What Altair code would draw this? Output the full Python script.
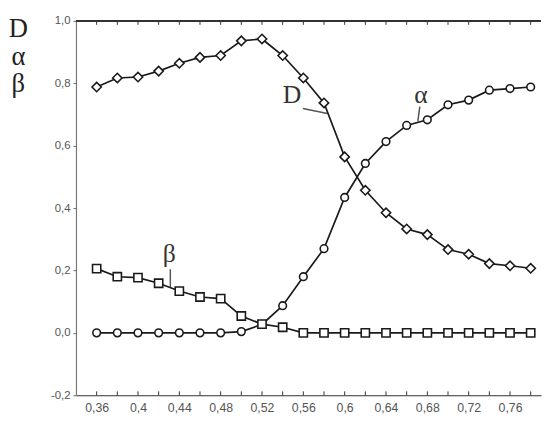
import altair as alt
import pandas as pd

x_vals = [0.36, 0.38, 0.40, 0.42, 0.44, 0.46, 0.48, 0.50, 0.52, 0.54, 0.56,
          0.58, 0.60, 0.62, 0.64, 0.66, 0.68, 0.70, 0.72, 0.74, 0.76, 0.78]
D_vals = [0.788, 0.817, 0.820, 0.839, 0.864, 0.883, 0.889, 0.936, 0.942, 0.889, 0.817,
          0.737, 0.564, 0.457, 0.385, 0.333, 0.315, 0.267, 0.252, 0.222, 0.215, 0.207]
alpha_vals = [0, 0, 0, 0, 0, 0, 0, 0.004, 0.027, 0.087, 0.180,
              0.270, 0.434, 0.543, 0.613, 0.665, 0.683, 0.731, 0.746, 0.778, 0.783, 0.788]
beta_vals = [0.206, 0.180, 0.177, 0.159, 0.134, 0.115, 0.110, 0.054, 0.028, 0.018, 0,
             0, 0, 0, 0, 0, 0, 0, 0, 0, 0, 0]
y_ticks = [-0.2, 0.0, 0.2, 0.4, 0.6, 0.8, 1.0]

ann_labels = ["D", "α", "β"]
ann_x = [0.549, 0.6737, 0.4303]
ann_y = [0.763, 0.763, 0.251]
lead_x = [0.5596, 0.6727, 0.4313]
lead_y = [0.719, 0.725, 0.204]
lead_x2 = [0.5833, 0.6708, 0.4313]
lead_y2 = [0.703, 0.678, 0.147]

W, H = 472, 380

xscale = alt.Scale(domain=[0.34, 0.79], nice=False, zero=False)
yscale = alt.Scale(domain=[-0.2, 1.0], nice=False, zero=False)

xaxis = alt.Axis(
    values=x_vals,
    labelExpr="round(datum.value*100) % 4 == 0 ? replace(format(datum.value, '.2~f'), '.', ',') : ''",
    ticks=False, grid=False, domainColor="#333", domainWidth=1.2,
    labelFont="Liberation Sans", labelFontSize=12.5, labelColor="#555",
    labelPadding=6, title=None, labelOverlap=False,
)
yaxis = alt.Axis(
    values=y_ticks,
    labelExpr="replace(replace(format(datum.value, '.1f'), '.', ','), '\u2212', '-')",
    tickSize=3, tickColor="#666", domainColor="#777", domainWidth=1.2, grid=False,
    labelFont="Liberation Sans", labelFontSize=11.5, labelColor="#555", labelPadding=3,
    title=["D", "α", "β"], titleAngle=0, titleFont="Liberation Serif",
    titleFontSize=27, titleFontWeight="normal", titleColor="#222",
    titleX=-59, titleY=16, titleAlign="center", titleBaseline="alphabetic",
    titleLineHeight=28,
)

X = alt.X("x:Q", scale=xscale, axis=xaxis)
Y = alt.Y("y:Q", scale=yscale, axis=yaxis)

def series(vals, shape, size):
    df = pd.DataFrame({"x": x_vals, "y": vals})
    base = alt.Chart(df).encode(x=X, y=Y)
    line = base.mark_line(color="#1a1a1a", strokeWidth=1.7)
    pts = base.mark_point(shape=shape, size=size, filled=True, fill="white",
                          stroke="#1a1a1a", strokeWidth=1.6, opacity=1)
    return [line, pts]

ticks_df = pd.DataFrame({"x": x_vals})
top_ticks = alt.Chart(ticks_df).mark_rule(color="#333", strokeWidth=1).encode(
    x=X, y=alt.value(0), y2=alt.value(4))
bot_ticks = alt.Chart(ticks_df).mark_rule(color="#333", strokeWidth=1).encode(
    x=X, y=alt.value(H), y2=alt.value(H - 4))
top_line = alt.Chart(ticks_df).mark_rule(color="#333", strokeWidth=1.2).encode(
    x=alt.value(0), x2=alt.value(W), y=alt.value(0))

ann_df = pd.DataFrame({"x": ann_x, "y": ann_y, "t": ann_labels})
ann = alt.Chart(ann_df).mark_text(font="Liberation Serif", fontSize=26,
                                  color="#333", baseline="middle").encode(
    x=X, y=Y, text="t:N")
lead_df = pd.DataFrame({"x": lead_x, "y": lead_y, "x2": lead_x2, "y2": lead_y2})
leads = alt.Chart(lead_df).mark_rule(color="#555", strokeWidth=1.5).encode(
    x=X, y=Y, x2="x2:Q", y2="y2:Q")

layers = [top_line, top_ticks, bot_ticks, leads, ann]
layers += series(alpha_vals, "circle", 60)
layers += series(D_vals, "diamond", 90)
layers += series(beta_vals, "square", 70)

chart = alt.layer(*layers).properties(
    width=W, height=H,
    autosize=alt.AutoSizeParams(type="none"),
    padding={"left": 69, "top": 10, "right": 1, "bottom": 20},
).configure_view(stroke=None)

chart.save("out.html", embed_options={"renderer": "svg", "actions": False})
